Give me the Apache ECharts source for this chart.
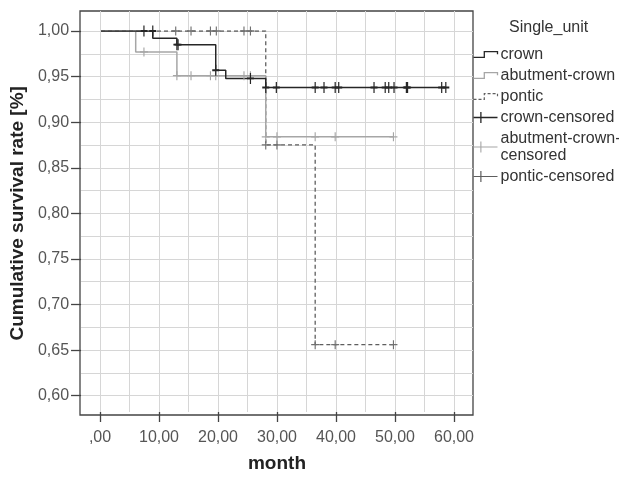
<!DOCTYPE html>
<html>
<head>
<meta charset="utf-8">
<script src="https://cdn.jsdelivr.net/npm/echarts@6/dist/echarts.min.js"></script>
<style>
html,body{margin:0;padding:0;background:#fff;}
#chart{width:619px;height:478px;}
</style>
</head>
<body>
<div id="chart"></div>
<script>
// Kaplan-Meier step points [month, survival]
const crownSteps = [[0,1.0],[8.8,0.992],[12.9,0.985],[19.5,0.957],[21.2,0.948],[28.0,0.938],[58.6,0.938]];
const abutmentSteps = [[0,1.0],[5.9,0.977],[12.9,0.951],[28.0,0.884],[49.7,0.884]];
const ponticSteps = [[0,1.0],[28.0,0.875],[36.4,0.656],[49.7,0.656]];

// censored observations [month, survival]
const crownCensored = [[7.3,1.0],[8.8,1.0],[12.9,0.985],[13.1,0.985],[19.5,0.957],[25.4,0.948],
  [28.0,0.938],[29.8,0.938],[36.4,0.938],[37.9,0.938],[39.8,0.938],[40.4,0.938],[46.4,0.938],
  [48.3,0.938],[48.9,0.938],[49.8,0.938],[51.9,0.938],[52.1,0.938],[57.9,0.938],[58.6,0.938]];
const abutmentCensored = [[7.3,0.977],[12.9,0.951],[15.3,0.951],[18.6,0.951],[19.5,0.951],[24.3,0.951],[25.4,0.951],
  [28.0,0.884],[29.9,0.884],[36.4,0.884],[39.8,0.884],[49.7,0.884]];
const ponticCensored = [[12.7,1.0],[15.3,1.0],[18.6,1.0],[19.6,1.0],[24.3,1.0],[25.4,1.0],
  [28.0,0.875],[29.9,0.875],[36.4,0.656],[39.8,0.656],[49.7,0.656]];

const seriesNames = ['crown','abutment-crown','pontic','crown-censored','abutment-crown-\ncensored','pontic-censored'];
const yTicks = {min:0.6, max:1.0, step:0.05};
const xTicks = {min:0, max:60, step:10};

const FONT = 'Arial, "Liberation Sans", Helvetica, sans-serif';
const cCrown = '#262626', cAbut = '#a6a6a6', cPontic = '#5e5e5e';
const stepIcon = 'path://M0,6.4 H11.7 V0 H26 V3';
const plusIcon = 'path://M0,6 H26 M8,0 V12';
const plusSym = 'path://M0,0 V10 M-4,5 H4';

const chart = echarts.init(document.getElementById('chart'), null, {renderer:'canvas'});
chart.setOption({
  animation:false,
  backgroundColor:'#fff',
  title:{text:'Single_unit', left:509, top:20, padding:0,
    textStyle:{fontFamily:FONT, fontSize:16, fontWeight:'normal', color:'#333'}},
  legend:{
    orient:'vertical', left:471, top:46, padding:0, itemWidth:24, itemHeight:12, itemGap:4,
    selectedMode:false,
    textStyle:{fontFamily:FONT, fontSize:16, color:'#333', lineHeight:17, padding:[0,0,0,-2]},
    data:[
      {name:seriesNames[0], icon:stepIcon, itemStyle:{color:'none', borderColor:cCrown, borderWidth:1.3}},
      {name:seriesNames[1], icon:stepIcon, itemStyle:{color:'none', borderColor:cAbut, borderWidth:1.3}},
      {name:seriesNames[2], icon:stepIcon, itemStyle:{color:'none', borderColor:cPontic, borderWidth:1.2, borderType:[3,2]}},
      {name:seriesNames[3], icon:plusIcon, itemStyle:{color:'none', borderColor:cCrown, borderWidth:1.3}},
      {name:seriesNames[4], icon:plusIcon, itemStyle:{color:'none', borderColor:cAbut, borderWidth:1.1}},
      {name:seriesNames[5], icon:plusIcon, itemStyle:{color:'none', borderColor:cPontic, borderWidth:1.2}}
    ]
  },
  grid:[
    {left:80, top:11, width:393, height:404, show:true, borderColor:'#444', borderWidth:1.3, backgroundColor:'transparent'},
    {left:80, top:31, width:393, height:364.7},
    {left:100, top:11, width:354, height:404}
  ],
  xAxis:[
    {gridIndex:0, type:'value', min:-3.39, max:63.22, show:false},
    {gridIndex:1, type:'value', min:-3.39, max:63.22, show:false},
    {gridIndex:2, type:'value', min:xTicks.min, max:xTicks.max, interval:xTicks.step, position:'bottom',
      axisLine:{show:false, onZero:false},
      axisTick:{show:true, length:10, lineStyle:{color:'#444', width:1.3}},
      axisLabel:{fontFamily:FONT, fontSize:16, color:'#555', margin:18,
        formatter:v => (v === 0 ? '' : String(v)) + ',00'},
      splitLine:{show:true, lineStyle:{color:'#d6d6d6', width:1}},
      minorTick:{show:false, splitNumber:2},
      minorSplitLine:{show:true, lineStyle:{color:'#d6d6d6', width:1}},
      name:'month', nameLocation:'middle', nameGap:42,
      nameTextStyle:{fontFamily:FONT, fontSize:19, fontWeight:'bold', color:'#222'}}
  ],
  yAxis:[
    {gridIndex:0, type:'value', min:0.5788, max:1.0223, show:false},
    {gridIndex:1, type:'value', min:yTicks.min, max:yTicks.max, interval:yTicks.step,
      axisLine:{show:false, onZero:false},
      axisTick:{show:true, length:10, lineStyle:{color:'#444', width:1.3}},
      axisLabel:{fontFamily:FONT, fontSize:16, color:'#555', margin:12,
        formatter:v => v.toFixed(2).replace('.', ',')},
      splitLine:{show:true, lineStyle:{color:'#d6d6d6', width:1}},
      minorTick:{show:false, splitNumber:2},
      minorSplitLine:{show:true, lineStyle:{color:'#d6d6d6', width:1}},
      name:'Cumulative survival rate [%]', nameLocation:'middle', nameGap:52,
      nameTextStyle:{fontFamily:FONT, fontSize:19, fontWeight:'bold', color:'#222'}},
    {gridIndex:2, type:'value', min:0, max:1, show:false}
  ],
  series:[
    {name:seriesNames[2], type:'line', xAxisIndex:1, yAxisIndex:1, step:'end', data:ponticSteps,
      symbol:'none', lineStyle:{color:cPontic, width:1.3, type:[4,3]}, itemStyle:{color:cPontic}, z:3},
    {name:seriesNames[1], type:'line', xAxisIndex:1, yAxisIndex:1, step:'end', data:abutmentSteps,
      symbol:'none', lineStyle:{color:cAbut, width:1.5}, itemStyle:{color:cAbut}, z:4},
    {name:seriesNames[0], type:'line', xAxisIndex:1, yAxisIndex:1, step:'end', data:crownSteps,
      symbol:'none', lineStyle:{color:cCrown, width:1.5}, itemStyle:{color:cCrown}, z:5},
    {name:seriesNames[5], type:'scatter', xAxisIndex:1, yAxisIndex:1, data:ponticCensored,
      symbol:plusSym, symbolSize:[8,9], itemStyle:{color:'none', borderColor:'#707070', borderWidth:1.2, opacity:1}, z:6},
    {name:seriesNames[4], type:'scatter', xAxisIndex:1, yAxisIndex:1, data:abutmentCensored,
      symbol:plusSym, symbolSize:[8,9], itemStyle:{color:'none', borderColor:cAbut, borderWidth:1.2, opacity:1}, z:7},
    {name:seriesNames[3], type:'scatter', xAxisIndex:1, yAxisIndex:1, data:crownCensored,
      symbol:plusSym, symbolSize:[7,11], itemStyle:{color:'none', borderColor:cCrown, borderWidth:1.5, opacity:1}, z:8}
  ]
});
</script>
</body>
</html>
